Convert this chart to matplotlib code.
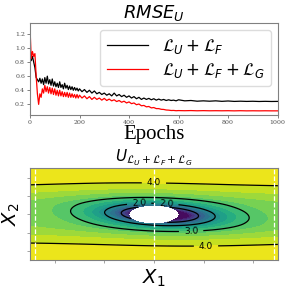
import numpy as np
import matplotlib
matplotlib.use('Agg')
import matplotlib.pyplot as plt

# --- Datos RMSE ---------------------------------------------------------------
epochs = np.concatenate([np.arange(0, 201, 5), np.arange(210, 601, 10), np.arange(625, 1001, 25)])

rmse_uf = [0.90, 0.82, 0.88, 0.80, 0.72, 0.58, 0.55, 0.52, 0.57, 0.50,
           0.56, 0.48, 0.58, 0.50, 0.60, 0.49, 0.55, 0.47, 0.56, 0.46,
           0.52, 0.45, 0.50, 0.44, 0.52, 0.44, 0.48, 0.42, 0.50, 0.43,
           0.47, 0.41, 0.46, 0.41, 0.45, 0.40, 0.44, 0.40, 0.43, 0.39, 0.42,
           0.38, 0.41, 0.37, 0.40, 0.36, 0.39, 0.35, 0.37, 0.34, 0.36,
           0.33, 0.35, 0.32, 0.36, 0.32, 0.34, 0.31, 0.33, 0.30, 0.32,
           0.29, 0.31, 0.28, 0.30, 0.27, 0.29, 0.27, 0.285, 0.265, 0.28,
           0.26, 0.275, 0.26, 0.27, 0.255, 0.265, 0.255, 0.26, 0.25, 0.265,
           0.25, 0.255, 0.245, 0.25, 0.245, 0.25, 0.243, 0.248, 0.242, 0.245,
           0.242, 0.244, 0.241, 0.243, 0.241, 0.242]

rmse_ufg = [1.30, 0.85, 0.95, 0.88, 0.92, 0.60, 0.35, 0.20, 0.35, 0.30,
            0.42, 0.36, 0.47, 0.38, 0.45, 0.36, 0.44, 0.35, 0.43, 0.34,
            0.42, 0.33, 0.40, 0.32, 0.40, 0.32, 0.38, 0.31, 0.37, 0.31,
            0.37, 0.30, 0.36, 0.30, 0.35, 0.30, 0.34, 0.29, 0.34, 0.29, 0.33,
            0.29, 0.32, 0.28, 0.31, 0.27, 0.30, 0.27, 0.29, 0.26, 0.285,
            0.255, 0.275, 0.25, 0.265, 0.24, 0.255, 0.23, 0.245, 0.22, 0.235,
            0.21, 0.22, 0.195, 0.205, 0.18, 0.185, 0.165, 0.17, 0.15, 0.155,
            0.14, 0.14, 0.13, 0.128, 0.12, 0.118, 0.113, 0.114, 0.11, 0.112,
            0.11, 0.112, 0.109, 0.111, 0.109, 0.11, 0.109, 0.11, 0.108, 0.11,
            0.108, 0.109, 0.108, 0.109, 0.108, 0.108]

labels = [r'$\mathcal{L}_U + \mathcal{L}_F$', r'$\mathcal{L}_U + \mathcal{L}_F + \mathcal{L}_G$']

# --- Parametros del campo U (forma) --------------------------------------------
radio = 0.5
centro = (0.12, 0.0)
semi_x, inclin = 1.85, 0.1
amp_cerca, rho0, esc_cerca = 3.58, 0.3, 0.37
amp_lejos, esc_lejos = 0.65, 1.0
niveles_fill = np.arange(0, 4.26, 0.25)
niveles_linea = [1.0, 2.0, 3.0, 4.0]
pos_etiquetas = [(0.25, 0.55), (-0.3, 0.66), (0.75, -0.92), (0.0, 1.8), (1.05, -1.8)]
lineas_blancas = [-2.4, 0.0, 2.42]

x = np.linspace(-2.5, 2.5, 400)
y = np.linspace(-2.5, 2.5, 300)
X, Y = np.meshgrid(x, y)
xs, ys = X - centro[0], Y - centro[1]
rho = np.hypot(xs / semi_x, ys + inclin * xs)
u = np.clip(np.abs(ys) - radio, 0, None)
U = amp_cerca * (1 - np.exp(-np.clip(rho - rho0, 0, None) / esc_cerca)) \
    + amp_lejos * (1 - np.exp(-(u / esc_lejos)**2))
U = np.ma.masked_where(np.hypot(X, Y) < radio, U)

fig = plt.figure(figsize=(2.91, 2.91), dpi=100)

# --- RMSE ---------------------------------------------------------------------
ax1 = fig.add_axes([0.103, 0.605, 0.851, 0.315])
ax1.plot(epochs, rmse_uf, color='k', lw=0.9, label=labels[0])
ax1.plot(epochs, rmse_ufg, color='r', lw=0.9, label=labels[1])
ax1.set_xlim(0, 1000)
ax1.set_ylim(0.05, 1.35)
ax1.set_yticks([0.2, 0.4, 0.6, 0.8, 1.0, 1.2])
ax1.set_xticks([0, 200, 400, 600, 800, 1000])
for lab in ax1.get_xticklabels() + ax1.get_yticklabels():
    lab.set_fontfamily('DejaVu Serif')
    lab.set_fontsize(4.5)
ax1.tick_params(length=2, width=0.5, pad=1.5, colors='0.3')
for sp in ax1.spines.values():
    sp.set_color('0.5')
ax1.set_title(r'$RMSE_U$', fontsize=13, pad=3)
ax1.set_xlabel('Epochs', fontsize=15, family='Liberation Serif', labelpad=0)
ax1.legend(loc='upper right', fontsize=12, handlelength=2.5, borderaxespad=0.4,
           labelspacing=0.3, framealpha=0.9, edgecolor='0.85')

# --- Campo U ------------------------------------------------------------------
ax2 = fig.add_axes([0.103, 0.105, 0.852, 0.316])
ax2.contourf(X, Y, U, levels=niveles_fill, cmap='viridis', extend='max')
cs = ax2.contour(X, Y, U, levels=niveles_linea, colors='k', linewidths=0.9)
ax2.clabel(cs, fmt='%1.1f', fontsize=6.5, inline=True, manual=pos_etiquetas)
for xv in lineas_blancas:
    ax2.axvline(xv, color='w', ls='--', lw=0.9)
ax2.set_xlim(-2.5, 2.5)
ax2.set_ylim(-2.5, 2.5)
ax2.set_xticks([-2, -1, 0, 1, 2])
ax2.set_yticks([-2, -1, 0, 1, 2])
ax2.set_xticklabels([])
ax2.set_yticklabels([])
ax2.tick_params(length=2, width=0.5, colors='0.5')
for sp in ax2.spines.values():
    sp.set_color('0.5')
ax2.set_title(r'$U_{\mathcal{L}_U + \mathcal{L}_F + \mathcal{L}_G}$', fontsize=11, pad=3)
ax2.set_xlabel(r'$X_1$', fontsize=14, labelpad=0)
ax2.set_ylabel(r'$X_2$', fontsize=14, labelpad=0)

fig.savefig('out.png', dpi=100)
